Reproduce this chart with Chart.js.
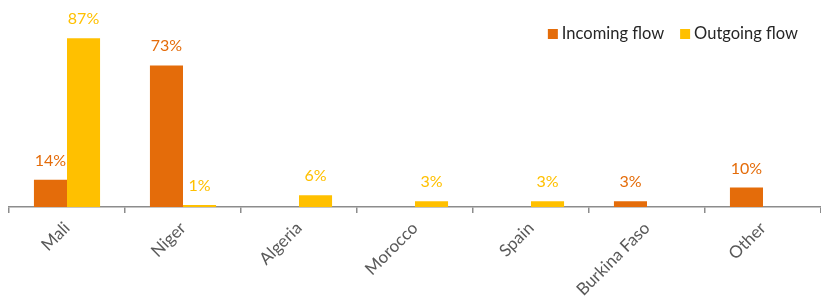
<!DOCTYPE html>
<html>
<head>
<meta charset="utf-8">
<script src="https://cdn.jsdelivr.net/npm/chart.js@4"></script>
<style>
  html, body { margin: 0; padding: 0; background: #fff; }
  #wrap { width: 821px; height: 298px; }
</style>
</head>
<body>
<div id="wrap"><canvas id="chart"></canvas></div>
<script>
// chart data
const categories = ['Mali', 'Niger', 'Algeria', 'Morocco', 'Spain', 'Burkina Faso', 'Other'];
const incoming = [14, 73, null, null, null, 3, 10];
const outgoing = [87, 1, 6, 3, 3, null, null];
const seriesNames = ['Incoming flow', 'Outgoing flow'];
const seriesColors = ['#E46C0A', '#FFC000'];

const FONT = 'Lato, "Open Sans", sans-serif';

// value labels above each bar, coloured like the bar
const valueLabels = {
    id: 'valueLabels',
    afterDatasetsDraw(chart) {
        const ctx = chart.ctx;
        ctx.save();
        ctx.font = '16px ' + FONT;
        ctx.textAlign = 'center';
        ctx.textBaseline = 'alphabetic';
        chart.data.datasets.forEach((ds, i) => {
            const meta = chart.getDatasetMeta(i);
            meta.data.forEach((bar, j) => {
                const v = ds.data[j];
                if (v === null || v === undefined) return;
                ctx.fillStyle = ds.backgroundColor;
                ctx.fillText(v + '%', bar.x, bar.y - 14);
            });
        });
        ctx.restore();
    }
};

// legend drawn inside the plot, top right
const cornerLegend = {
    id: 'cornerLegend',
    afterDraw(chart) {
        const ctx = chart.ctx;
        ctx.save();
        ctx.font = '16.5px ' + FONT;
        ctx.textBaseline = 'alphabetic';
        let x = chart.chartArea.right - 23;
        const base = 39;
        for (let i = chart.data.datasets.length - 1; i >= 0; i--) {
            const ds = chart.data.datasets[i];
            const w = ctx.measureText(ds.label).width;
            x -= w;
            ctx.fillStyle = '#262626';
            ctx.fillText(ds.label, x, base);
            ctx.fillStyle = ds.backgroundColor;
            ctx.fillRect(x - 14, base - 10, 10, 10);
            x -= 30;
        }
        ctx.restore();
    }
};

new Chart(document.getElementById('chart'), {
    type: 'bar',
    data: {
        labels: categories,
        datasets: [
            { label: seriesNames[0], data: incoming, backgroundColor: seriesColors[0] },
            { label: seriesNames[1], data: outgoing, backgroundColor: seriesColors[1] }
        ]
    },
    options: {
        responsive: true,
        maintainAspectRatio: false,
        animation: false,
        layout: { padding: { left: 9, right: 0, top: 13, bottom: 0 } },
        datasets: { bar: { categoryPercentage: 0.57, barPercentage: 1.0 } },
        plugins: {
            legend: { display: false },
            tooltip: { enabled: false }
        },
        scales: {
            x: {
                grid: {
                    display: true,
                    drawOnChartArea: false,
                    drawTicks: true,
                    tickLength: 6,
                    lineWidth: 1.5,
                    color: '#8c8c8c'
                },
                border: { display: true, color: '#8c8c8c', width: 1.5 },
                ticks: {
                    minRotation: 45,
                    maxRotation: 45,
                    color: '#595959',
                    font: { family: FONT, size: 17 },
                    padding: 5
                },
                afterFit: (scale) => { scale.height = 91; }
            },
            y: {
                display: false,
                min: 0,
                max: 100
            }
        }
    },
    plugins: [valueLabels, cornerLegend]
});
</script>
</body>
</html>
